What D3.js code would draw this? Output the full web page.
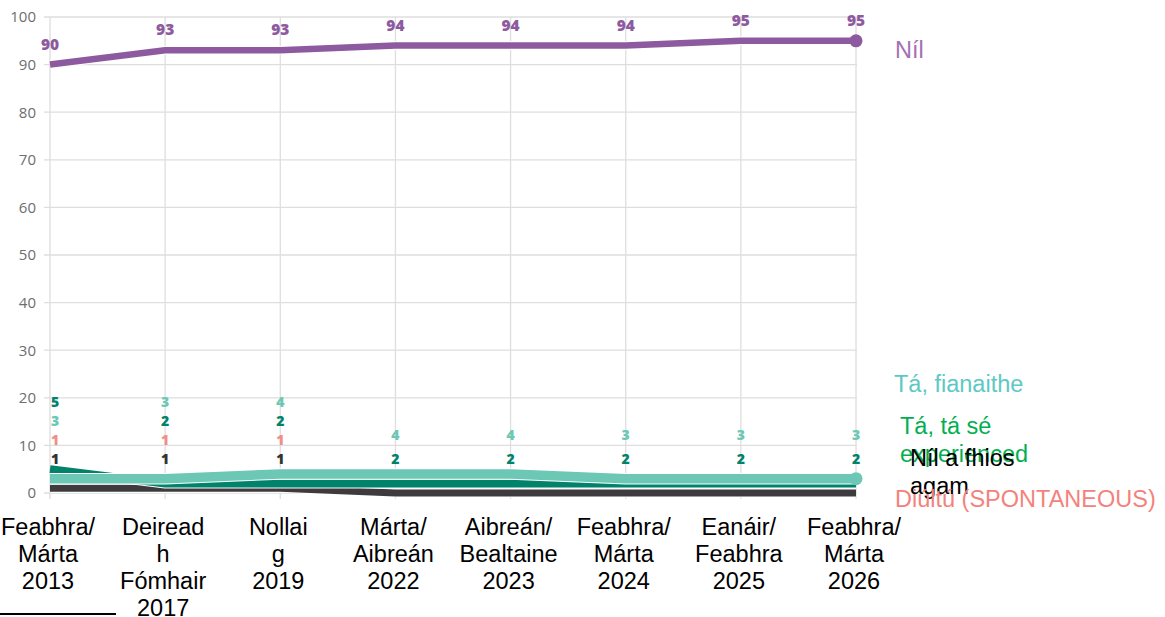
<!DOCTYPE html>
<html>
<head>
<meta charset="utf-8">
<script src="https://cdn.jsdelivr.net/npm/d3@7"></script>
<style>
  html, body { margin: 0; padding: 0; background: #fff; }
  svg { display: block; }
</style>
</head>
<body>
<svg id="chart" width="1165" height="617"></svg>
<script>
// ---- data ----
const categories = [
  "Feabhra/\nMárta\n2013",
  "Deiread\nh\nFómhair\n2017",
  "Nollai\ng\n2019",
  "Márta/\nAibreán\n2022",
  "Aibreán/\nBealtaine\n2023",
  "Feabhra/\nMárta\n2024",
  "Eanáir/\nFeabhra\n2025",
  "Feabhra/\nMárta\n2026"
];
const yTicks = [0, 10, 20, 30, 40, 50, 60, 70, 80, 90, 100];
const nil        = [90, 93, 93, 94, 94, 94, 95, 95];
const fianaithe  = [3, 3, 4, 4, 4, 3, 3, 3];
const experienced= [5, 2, 2, 2, 2, 2, 2, 2];
const diultu     = [1, 1, 1, 0, 0, 0, 0, 0];
const niFhios    = [1, 1, 1, 0, 0, 0, 0, 0];
const seriesNames = ["Níl", "Tá, fianaithe", "Tá, tá sé experienced", "Níl a fhios agam", "Diúltú (SPONTANEOUS)"];

// ---- chart ----
const svg = d3.select("#chart");
const x = d3.scalePoint().domain(d3.range(categories.length)).range([50, 856]);
const y = d3.scaleLinear().domain([0, 100]).range([493, 17]);

// gridlines
const grid = svg.append("g");
grid.selectAll("line.h").data(yTicks).join("line")
  .attr("x1", 44).attr("x2", 857)
  .attr("y1", d => y(d)).attr("y2", d => y(d))
  .attr("stroke", "#dedede").attr("stroke-width", 1.3);
grid.selectAll("line.v").data(d3.range(categories.length)).join("line")
  .attr("x1", d => x(d)).attr("x2", d => x(d))
  .attr("y1", y(100)).attr("y2", y(0) + 6)
  .attr("stroke", "#dedede").attr("stroke-width", 1.3);

// y axis labels
const yAxis = d3.axisLeft(y).tickValues(yTicks).tickSize(0).tickPadding(0);
const ya = svg.append("g").attr("transform", "translate(36,0)").call(yAxis);
ya.select(".domain").remove();
ya.selectAll("text")
  .attr("font-family", "'Open Sans', sans-serif")
  .attr("font-size", 15)
  .attr("fill", "#6e6e6e");

const line = d3.line().x((d, i) => x(i)).y(d => y(d)).curve(d3.curveLinear);

function drawSeries(vals, color, width, dot) {
  svg.append("path").datum(vals).attr("d", line)
    .attr("fill", "none").attr("stroke", "#fff")
    .attr("stroke-width", width + 2).attr("stroke-linejoin", "round");
  svg.append("path").datum(vals).attr("d", line)
    .attr("fill", "none").attr("stroke", color)
    .attr("stroke-width", width).attr("stroke-linejoin", "round");
  if (dot) {
    const li = vals.length - 1;
    svg.append("circle").attr("cx", x(li)).attr("cy", y(vals[li]))
      .attr("r", dot).attr("fill", color);
  }
}

const cDiultu = "#f28e86", cFhios = "#3d3b3e", cExp = "#00826b", cFian = "#6cc7b4", cNil = "#8e5a9f";
drawSeries(diultu, cDiultu, 6, 0);
drawSeries(niFhios, cFhios, 7, 0);
drawSeries(experienced, cExp, 8, 0);
drawSeries(fianaithe, cFian, 9.5, 6.5);
drawSeries(nil, cNil, 6.5, 6.5);

// value labels - Níl
const lblFont = "'Open Sans', sans-serif";
svg.append("g").selectAll("text").data(nil).join("text")
  .attr("x", (d, i) => x(i)).attr("y", d => y(d) - 15)
  .attr("text-anchor", "middle")
  .attr("font-family", lblFont).attr("font-weight", 800).attr("font-size", 15.5)
  .attr("fill", cNil).text(d => d);

// value labels - small series, stacked by value
const small = [
  { vals: experienced, color: cExp, rank: 0 },
  { vals: fianaithe, color: cFian, rank: 1 },
  { vals: diultu, color: cDiultu, rank: 2 },
  { vals: niFhios, color: "#333333", rank: 3 }
];
categories.forEach((c, i) => {
  const items = small.filter(s => s.vals[i] > 0)
    .map(s => ({ v: s.vals[i], color: s.color, rank: s.rank }))
    .sort((a, b) => (a.v - b.v) || (b.rank - a.rank));
  const gap = items.length > 2 ? 19 : 24;
  items.forEach((it, k) => {
    svg.append("text")
      .attr("x", x(i) + (items.length > 2 && i === 0 ? 5 : 0)).attr("y", 464 - k * gap)
      .attr("text-anchor", "middle")
      .attr("font-family", lblFont).attr("font-weight", 800).attr("font-size", 14)
      .attr("fill", it.color).text(it.v);
  });
});

// x axis labels
const xl = svg.append("g");
categories.forEach((c, i) => {
  const t = xl.append("text")
    .attr("x", x(i) - 2).attr("y", 535)
    .attr("text-anchor", "middle")
    .attr("font-family", "'Liberation Sans', Arial, sans-serif")
    .attr("font-size", 23.5).attr("fill", "#000");
  c.split("\n").forEach((ln, k) => {
    t.append("tspan").attr("x", x(i) - 2).attr("dy", k === 0 ? 0 : 27).text(ln);
  });
});

// right-side series labels
const legFont = "'Liberation Sans', Arial, sans-serif";
const legends = [
  { lines: [seriesNames[0]], color: "#a370b5", x: 895, y: 58 },
  { lines: [seriesNames[1]], color: "#5ec8c4", x: 894, y: 392 },
  { lines: ["Tá, tá sé", "experienced"], color: "#00b050", x: 900, y: 434 },
  { lines: ["Níl a fhios", "agam"], color: "#000000", x: 910, y: 466 },
  { lines: [seriesNames[4]], color: "#f4827c", x: 895, y: 507 }
];
legends.forEach(l => {
  const t = svg.append("text").attr("x", l.x).attr("y", l.y)
    .attr("font-family", legFont).attr("font-size", 23.5).attr("fill", l.color);
  l.lines.forEach((ln, k) => t.append("tspan").attr("x", l.x).attr("dy", k ? 27.5 : 0).text(ln));
});

// stray rule at bottom-left
svg.append("line").attr("x1", 0).attr("x2", 116).attr("y1", 614).attr("y2", 614)
  .attr("stroke", "#000").attr("stroke-width", 2);
</script>
</body>
</html>
